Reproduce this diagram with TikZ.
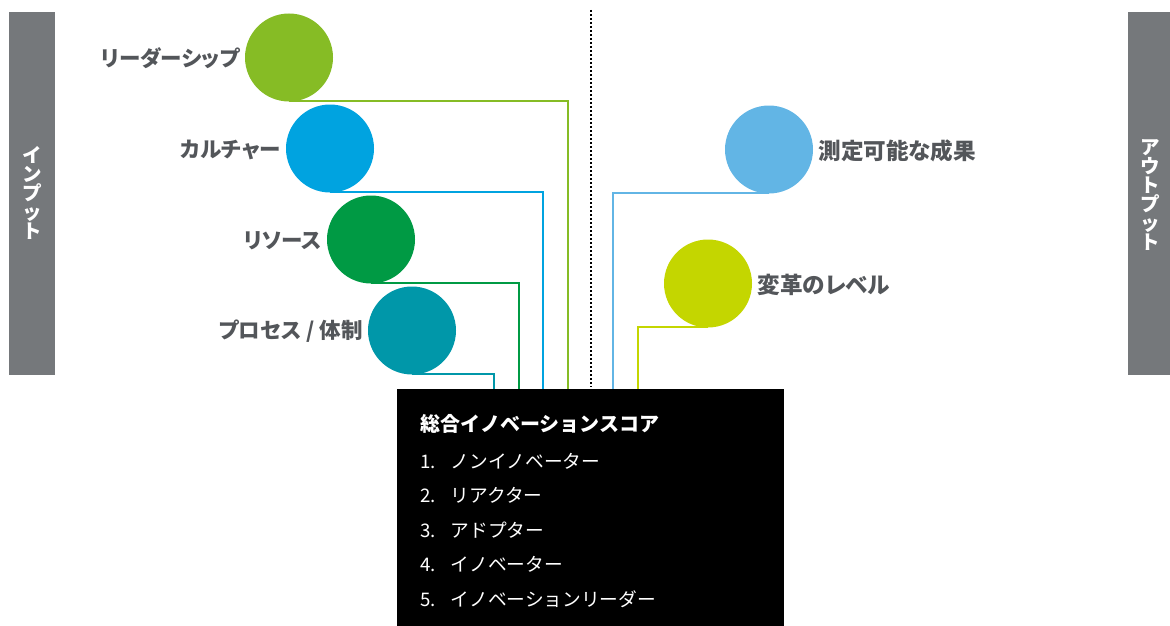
\documentclass[tikz,border=0pt]{standalone}
\usepackage{fontspec}
\newfontfamily\jp{Noto Sans CJK JP}
\newfontfamily\jpp{Noto Sans CJK JP}[RawFeature=+palt]
\definecolor{barGray}{HTML}{75787B}
\definecolor{labGray}{HTML}{53565A}
\definecolor{cLead}{HTML}{86BC25}
\definecolor{cCult}{HTML}{00A3E0}
\definecolor{cRes}{HTML}{009A44}
\definecolor{cProc}{HTML}{0097A9}
\definecolor{cMeas}{HTML}{62B5E5}
\definecolor{cTrans}{HTML}{C4D600}
\tikzset{
  dot/.style={circle,inner sep=0pt,minimum size=88pt,fill=#1},
  lab/.style={font=\jpp\bfseries\fontsize{21.5}{21.5}\selectfont,text=labGray,inner sep=0pt},
  rlab/.style={lab,font=\jpp\bfseries\fontsize{22.6}{22.6}\selectfont},
  conn/.style={line width=2pt,draw=#1},
  bartext/.style={font=\jp\bfseries\fontsize{19.5}{19}\selectfont,text=white,align=center,inner sep=0pt},
  boxtext/.style={font=\jp\fontsize{18.7}{18.7}\selectfont,text=white,anchor=west,inner sep=0pt},
}
\begin{document}
\begin{tikzpicture}[x=1pt,y=-1pt]
\useasboundingbox (0,0) rectangle (1170,626);
% side bars
\node[fill=barGray,minimum width=46pt,minimum height=363pt,inner sep=0pt] (inbar) at (32,193.5) {};
\node[bartext] (intext) at (32,193) {イ\\ン\\プ\\ッ\\ト};
\node[fill=barGray,minimum width=42pt,minimum height=363pt,inner sep=0pt] (outbar) at (1149,193.5) {};
\node[bartext] (outtext) at (1150,195) {ア\\ウ\\ト\\プ\\ッ\\ト};
% dotted divider
\coordinate (dtop) at (591,10);
\coordinate (dbot) at (591,387);
\draw[line width=1.6pt,dash pattern=on 1.6pt off 2.4pt] (dtop) -- (dbot);
% black box
\node[fill=black,minimum width=387pt,minimum height=237pt,inner sep=0pt] (box) at (590.5,507.5) {};
\node[boxtext,font=\jp\bfseries\fontsize{20}{20}\selectfont] (title) at (420,424) {総合イノベーションスコア};
\node[boxtext] (i1) at (420,461) {1.\hspace{0.8em}ノンイノベーター};
\node[boxtext] (i2) at (420,495) {2.\hspace{0.8em}リアクター};
\node[boxtext] (i3) at (420,530) {3.\hspace{0.8em}アドプター};
\node[boxtext] (i4) at (420,564) {4.\hspace{0.8em}イノベーター};
\node[boxtext] (i5) at (420,599) {5.\hspace{0.8em}イノベーションリーダー};
% top-of-box connector ends
\coordinate (e1) at (568,389);
\coordinate (e2) at (543,389);
\coordinate (e3) at (519,389);
\coordinate (e4) at (494,389);
\coordinate (e5) at (613,389);
\coordinate (e6) at (638,389);
% connectors
\draw[conn=cLead] (289,101) -| (e1);
\draw[conn=cCult] (330,192) -| (e2);
\draw[conn=cRes] (371,283) -| (e3);
\draw[conn=cProc] (412,374) -| (e4);
\draw[conn=cMeas] (769,193) -| (e5);
\draw[conn=cTrans] (708,327) -| (e6);
% circles
\node[dot=cLead] (lead) at (289,57.5) {};
\node[dot=cCult] (cult) at (330,148.5) {};
\node[dot=cRes] (res) at (371,239.5) {};
\node[dot=cProc] (proc) at (412,330.5) {};
\node[dot=cMeas] (meas) at (769,149.5) {};
\node[dot=cTrans] (trans) at (708,283.5) {};
% labels
\node[lab,anchor=east] (llead) at ([xshift=-5pt,yshift=-1pt]lead.west) {リーダーシップ};
\node[lab,anchor=east] (lcult) at ([xshift=-5pt,yshift=-1pt]cult.west) {カルチャー};
\node[lab,anchor=east] (lres) at ([xshift=-5pt,yshift=-1pt]res.west) {リソース};
\node[lab,anchor=east] (lproc) at ([xshift=-5pt,yshift=-1pt]proc.west) {プロセス / 体制};
\node[rlab,anchor=west] (lmeas) at ([xshift=5pt,yshift=-1pt]meas.east) {測定可能な成果};
\node[rlab,anchor=west] (ltrans) at ([xshift=5pt,yshift=-1pt]trans.east) {変革のレベル};
\end{tikzpicture}
\end{document}
